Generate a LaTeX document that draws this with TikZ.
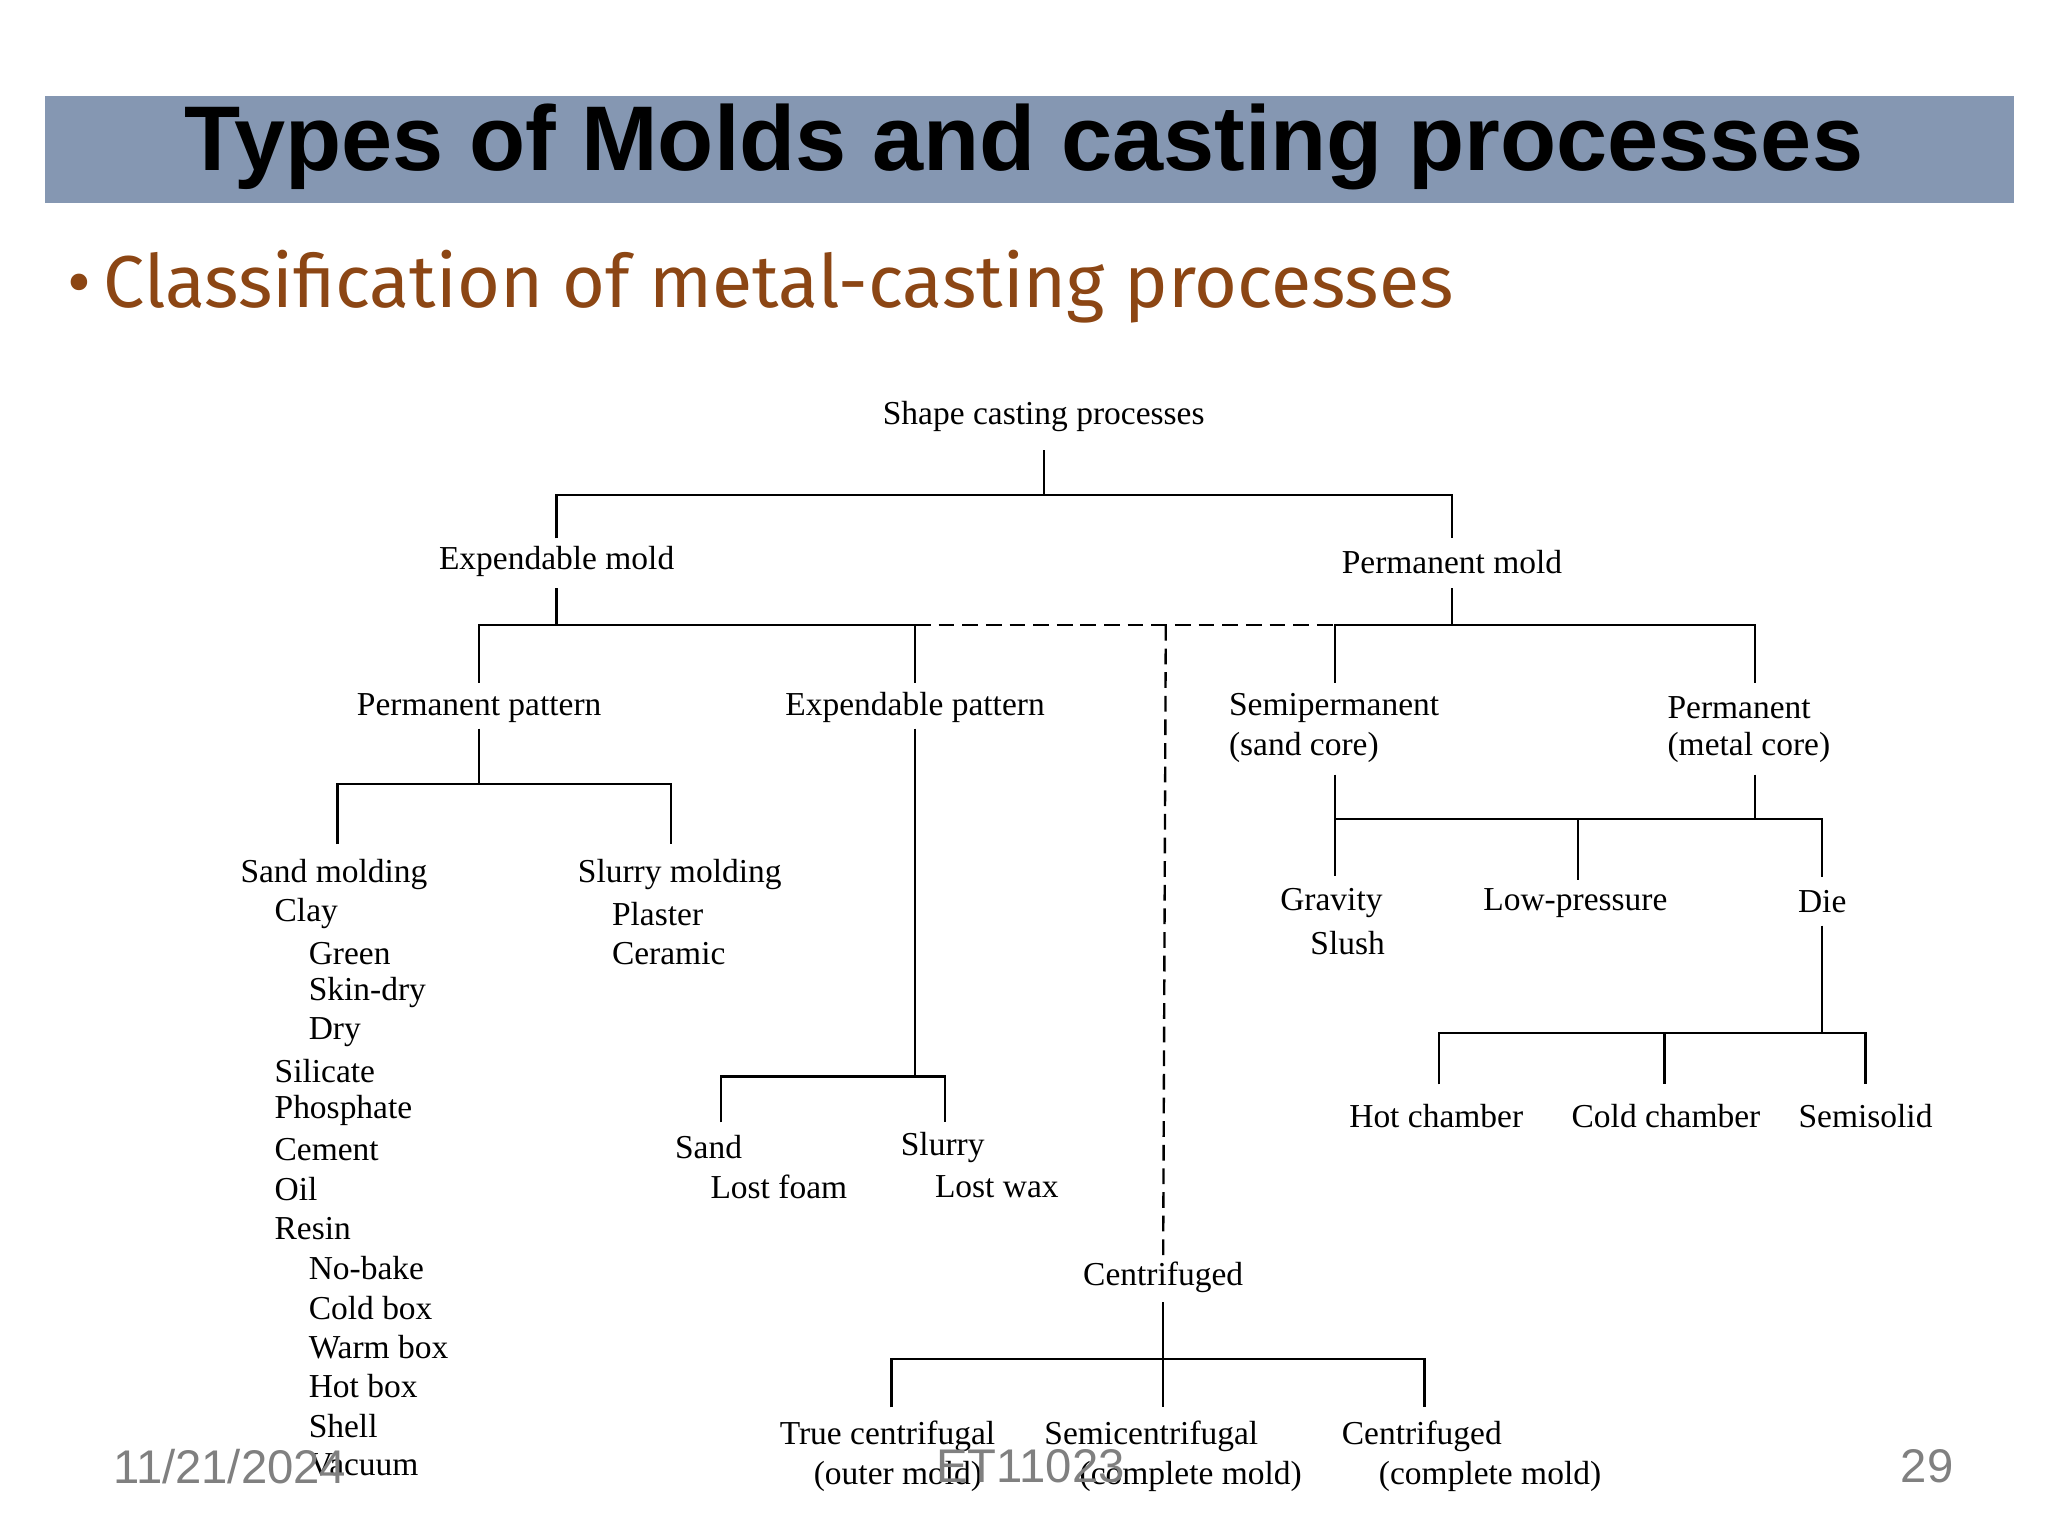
\documentclass[tikz,border=0pt]{standalone}
\usepackage{fontspec}
\setmainfont{Liberation Serif}
\newfontfamily\ttl{Liberation Sans}
\newfontfamily\cmc{Fira Sans}
\begin{document}
\begin{tikzpicture}[x=1pt,y=-1pt,
 t/.style={font=\fontsize{25.5}{27}\selectfont,inner sep=0pt},
 l/.style={t,anchor=west},
 ln/.style={line width=1.8pt},
 ds/.style={line width=1.8pt,dash pattern=on 12pt off 6pt}]
\useasboundingbox (0,0) rectangle (1560,1170);
\fill[white] (0,0) rectangle (1560,1170);
\fill[fill={rgb,255:red,133;green,151;blue,178}] (34,73) rectangle (1534,155);
\node[font=\ttl\bfseries\fontsize{70}{76}\selectfont] (title) at (780,112) {Types of Molds and casting processes};
\node[font=\cmc\fontsize{56}{60}\selectfont,text={rgb,255:red,140;green,70;blue,20},anchor=west] (sub) at (48,218) {\textbullet\,Classification of metal-casting processes};
% top
\node[t] (sc) at (795,317) {Shape casting processes};
\node[t] (em) at (424,428) {Expendable mold};
\node[t] (pm) at (1106,428) {Permanent mold};
\draw[ln] (795,343)--(795,377) (424,410)|-(1106,377)--(1106,410);
\draw[ln] (424,448)--(424,476) (1106,448)--(1106,476);
\draw[ln] (365,520)|-(697,476)--(697,520);
\draw[ds] (697,476)--(1017,476);
\draw[ln] (1017,520)|-(1337,476)--(1337,520);
\draw[ds] (888,476)--(886,958);
% permanent pattern
\node[t] (pp) at (365,539) {Permanent pattern};
\draw[ln] (365,555)--(365,597) (257,643)|-(511,597)--(511,643);
\foreach \s/\x/\y in {Sand molding/183/666,Clay/209/696,Green/235/726,Skin-dry/235/756,Dry/235/786,Silicate/209/816,Phosphate/209/846,Cement/209/876,Oil/209/906,Resin/209/936,No-bake/235/966,Cold box/235/996,Warm box/235/1026,Hot box/235/1056,Shell/235/1086,Vacuum/235/1116}
 \node[l] at (\x,\y) {\s};
\node[l] (sm) at (440,666) {Slurry molding};
\node[l] at (466,696) {Plaster};
\node[l] at (466,726) {Ceramic};
% expendable pattern
\node[t] (ep) at (697,539) {Expendable pattern};
\draw[ln] (697,555)--(697,820) (549,855)|-(720,820)--(720,855);
\node[l] at (514,874) {Sand};
\node[l] at (541,904) {Lost foam};
\node[l] at (686,874) {Slurry};
\node[l] at (712,904) {Lost wax};
% permanent mold side
\node[l] (sp) at (936,539) {Semipermanent};
\node[l] at (936,569) {(sand core)};
\node[l] (pmc) at (1270,539) {Permanent};
\node[l] at (1270,569) {(metal core)};
\draw[ln] (1017,590)--(1017,667) (1337,590)--(1337,624) (1017,624)--(1388,624)--(1388,668) (1202,624)--(1202,670);
\node[l] at (975,688) {Gravity};
\node[l] at (998,718) {Slush};
\node[t] (lp) at (1200,688) {Low-pressure};
\node[t] (die) at (1388,687) {Die};
\draw[ln] (1388,705)--(1388,787) (1096,826)|-(1421,787)--(1421,826) (1268,787)--(1268,826);
\node[t] at (1094,850) {Hot chamber};
\node[t] at (1269,850) {Cold chamber};
\node[t] at (1421,850) {Semisolid};
% centrifuged
\node[t] (cf) at (886,973) {Centrifuged};
\draw[ln] (886,992)--(886,1072) (679,1072)|-(1085,1035)--(1085,1072);
\node[t] at (676,1094) {True centrifugal};
\node[t] at (684,1125) {(outer mold)};
\node[t] at (877,1094) {Semicentrifugal};
\node[t] at (907,1125) {(complete mold)};
\node[t] at (1083,1094) {Centrifuged};
\node[t] at (1135,1125) {(complete mold)};
% footer
\begin{scope}[every node/.style={font=\ttl\fontsize{36}{40}\selectfont,text={rgb,255:red,128;green,128;blue,128}}]
\node (d) at (175,1117) {11/21/2024};
\node (c) at (785,1117) {ET11023};
\node (p) at (1468,1117) {29};
\end{scope}
\end{tikzpicture}
\end{document}
